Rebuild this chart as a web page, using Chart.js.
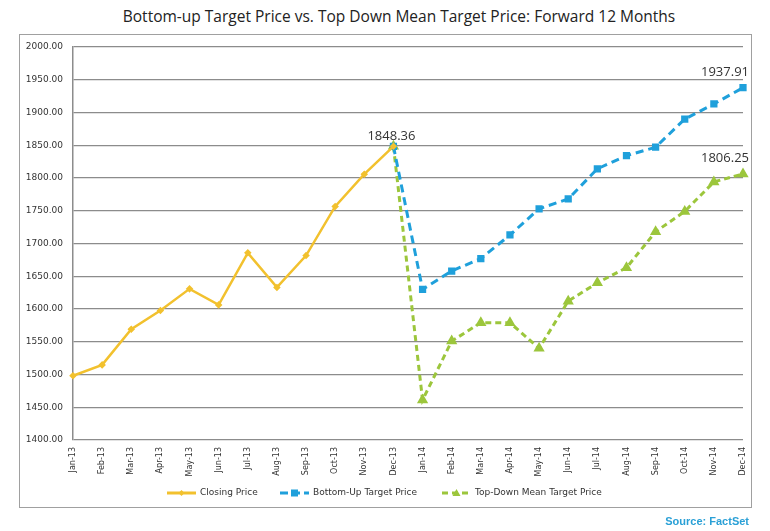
<!DOCTYPE html>
<html>
<head>
<meta charset="utf-8">
<script src="https://cdn.jsdelivr.net/npm/chart.js@4.4.1/dist/chart.umd.min.js"></script>
<style>
  body { margin: 0; background: #fff; }
  #wrap { position: relative; width: 770px; height: 531px; }
  #title { position: absolute; left: 14px; top: 5px; width: 770px; text-align: center;
    font-family: "Open Sans", sans-serif; font-size: 15.5px; color: #222; }
  #frame { position: absolute; left: 19px; top: 34px; width: 733px; height: 474px;
    border: 1.5px solid #a0a0a0; box-sizing: border-box; }
  #source { position: absolute; right: 21px; top: 515px;
    font-family: "Liberation Sans", sans-serif; font-weight: bold; font-size: 11px; color: #2aa0d6; }
  canvas { position: absolute; left: 0; top: 0; }
</style>
</head>
<body>
<div id="wrap">
  <div id="frame"></div>
  <div id="title">Bottom-up Target Price vs. Top Down Mean Target Price: Forward 12 Months</div>
  <canvas id="mainChart" width="770" height="531"></canvas>
  <div id="source">Source: FactSet</div>
</div>
<script>
const months = ['Jan-13', 'Feb-13', 'Mar-13', 'Apr-13', 'May-13', 'Jun-13', 'Jul-13', 'Aug-13',
  'Sep-13', 'Oct-13', 'Nov-13', 'Dec-13', 'Jan-14', 'Feb-14', 'Mar-14', 'Apr-14', 'May-14',
  'Jun-14', 'Jul-14', 'Aug-14', 'Sep-14', 'Oct-14', 'Nov-14', 'Dec-14'];

const closingPrice = [1498.11, 1514.68, 1569.19, 1597.57, 1630.74, 1606.28, 1685.73, 1632.97,
  1681.55, 1756.54, 1805.81, 1848.36, null, null, null, null, null, null, null, null, null, null, null, null];

const bottomUp = [null, null, null, null, null, null, null, null, null, null, null, 1848.36,
  1630, 1658, 1677, 1713, 1753, 1768, 1814, 1834, 1847, 1890, 1913, 1937.91];

const topDown = [null, null, null, null, null, null, null, null, null, null, null, 1848.36,
  1461, 1551, 1579, 1579, 1540, 1612, 1640, 1663, 1718, 1749, 1794, 1806.25];

// value labels: [dataset index, point index, dx, dy]
const callouts = [[0, 11, -2, -10], [1, 23, -18, -15], [2, 23, -18, -16]];

const yellow = '#F2C12E';
const blue = '#1FA0DB';
const green = '#9CC63C';

const calloutPlugin = {
  id: 'callouts',
  afterDatasetsDraw(chart) {
    const ctx = chart.ctx;
    ctx.save();
    ctx.font = '13px "Open Sans", sans-serif';
    ctx.fillStyle = '#333';
    ctx.textAlign = 'center';
    ctx.textBaseline = 'middle';
    callouts.forEach(([ds, i, dx, dy]) => {
      const pt = chart.getDatasetMeta(ds).data[i];
      const val = chart.data.datasets[ds].data[i];
      ctx.fillText(val.toFixed(2), pt.x + dx, pt.y + dy);
    });
    ctx.restore();
  }
};

const legendPlugin = {
  id: 'bottomLegend',
  afterDraw(chart) {
    const ctx = chart.ctx;
    const y = 493;
    const items = [
      { x: 167, color: yellow, dash: [], marker: 'diamond', text: 'Closing Price' },
      { x: 280, color: blue, dash: [8, 4], marker: 'square', text: 'Bottom-Up Target Price' },
      { x: 442, color: green, dash: [6, 4], marker: 'triangle', text: 'Top-Down Mean Target Price' }
    ];
    ctx.save();
    items.forEach(it => {
      ctx.strokeStyle = it.color;
      ctx.fillStyle = it.color;
      ctx.lineWidth = 3;
      ctx.setLineDash(it.dash);
      ctx.beginPath();
      ctx.moveTo(it.x, y);
      ctx.lineTo(it.x + 29, y);
      ctx.stroke();
      ctx.setLineDash([]);
      const cx = it.x + 14.5;
      ctx.beginPath();
      if (it.marker === 'diamond') {
        ctx.moveTo(cx, y - 3); ctx.lineTo(cx + 3, y); ctx.lineTo(cx, y + 3); ctx.lineTo(cx - 3, y);
      } else if (it.marker === 'square') {
        ctx.rect(cx - 3.5, y - 3.5, 7, 7);
      } else {
        ctx.moveTo(cx, y - 4); ctx.lineTo(cx + 4, y + 3); ctx.lineTo(cx - 4, y + 3);
      }
      ctx.closePath();
      ctx.fill();
      ctx.fillStyle = '#333';
      ctx.font = '9px "DejaVu Sans", sans-serif';
      ctx.textAlign = 'left';
      ctx.textBaseline = 'middle';
      ctx.fillText(it.text, it.x + 33, y);
    });
    ctx.restore();
  }
};

const ctx = document.getElementById('mainChart').getContext('2d');
new Chart(ctx, {
  type: 'line',
  data: {
    labels: months,
    datasets: [
      {
        label: 'Closing Price',
        data: closingPrice,
        borderColor: yellow,
        backgroundColor: yellow,
        borderWidth: 2.5,
        pointStyle: 'rectRot',
        pointRadius: 2,
        tension: 0
      },
      {
        label: 'Bottom-Up Target Price',
        data: bottomUp,
        borderColor: blue,
        backgroundColor: blue,
        borderWidth: 3,
        borderDash: [8, 5],
        pointStyle: 'rect',
        pointRadius: 3,
        tension: 0
      },
      {
        label: 'Top-Down Mean Target Price',
        data: topDown,
        borderColor: green,
        backgroundColor: green,
        borderWidth: 3,
        borderDash: [6, 4],
        pointStyle: 'triangle',
        pointRadius: 3.5,
        tension: 0
      }
    ]
  },
  options: {
    responsive: false,
    animation: false,
    layout: { padding: { left: 20, top: 47, right: 27, bottom: 46 } },
    plugins: {
      legend: { display: false },
      title: { display: false },
      tooltip: { enabled: false }
    },
    scales: {
      x: {
        offset: false,
        grid: { display: false, drawTicks: false },
        border: { display: false },
        ticks: {
          autoSkip: false,
          minRotation: 90,
          maxRotation: 90,
          padding: 7,
          color: '#333',
          font: { family: 'DejaVu Sans', size: 8 }
        },
        afterFit(scale) { scale.height = 45; }
      },
      y: {
        min: 1400,
        max: 2000,
        grid: { color: '#8c8c8c', lineWidth: 1.2, drawTicks: false },
        border: { display: true, color: '#8c8c8c', width: 1.5 },
        ticks: {
          stepSize: 50,
          padding: 10,
          color: '#333',
          font: { family: 'DejaVu Sans', size: 9 },
          callback: v => v.toFixed(2)
        },
        afterFit(scale) { scale.width = 53; }
      }
    }
  },
  plugins: [calloutPlugin, legendPlugin]
});
</script>
</body>
</html>
